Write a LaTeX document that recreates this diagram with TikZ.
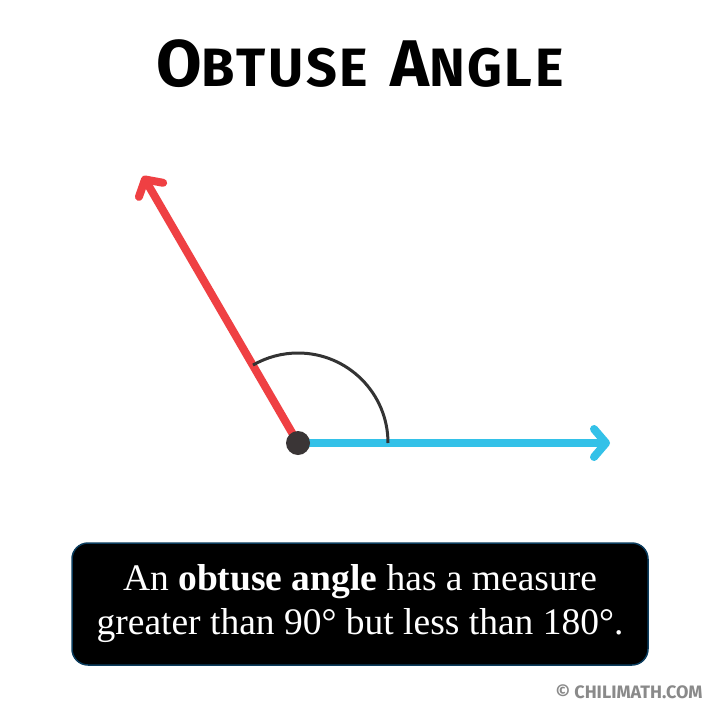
\documentclass[tikz,border=0pt]{standalone}
\usepackage{fontspec}
\setmainfont{Liberation Serif}
\newfontfamily\titlefont{Fira Sans}[LetterSpace=5]
\newfontfamily\markfont{Fira Sans}
\usetikzlibrary{arrows.meta}
\definecolor{rayred}{HTML}{EF4043}
\definecolor{rayblue}{HTML}{33C1E8}
\definecolor{arcgray}{HTML}{333333}
\definecolor{dotgray}{HTML}{3A3536}
\definecolor{boxedge}{HTML}{0B3C5D}
\definecolor{markgray}{HTML}{8A8A8A}
\tikzset{
  ray/.style={line width=8pt, line cap=round, -{Straight Barb[length=12pt,width=28pt,round]}},
  notebox/.style={fill=black, draw=boxedge, line width=1.5pt, rounded corners=16pt,
    minimum width=576pt, minimum height=122pt, inner sep=0pt}
}
\begin{document}
\begin{tikzpicture}[x=1pt,y=-1pt]
  \useasboundingbox [fill=white] (0,0) rectangle (720,720);
  % heading
  \node (title) at (360,64) {\titlefont\bfseries
    {\fontsize{66}{66}\selectfont O}{\fontsize{54}{54}\selectfont BTUSE}\hspace{22pt}%
    {\fontsize{66}{66}\selectfont A}{\fontsize{54}{54}\selectfont NGLE}};
  % the two rays
  \coordinate (O) at (298,443);
  \coordinate (A) at (143,176);
  \coordinate (B) at (610,443);
  \draw [ray, rayred] (O) -- (A);
  \draw [ray, rayblue] (O) -- (B);
  \draw [arcgray, line width=3pt] (O) ++(90,0) arc [start angle=0, end angle=-120, radius=90];
  \fill [dotgray] (O) circle [radius=12];
  % note
  \node [notebox] (note) at (360,604) {};
  \node [white, align=center, font=\fontsize{37.5}{44}\selectfont] (text) at (note.center)
    {An \textbf{obtuse angle} has a measure\\greater than 90° but less than 180°.};
  \node [markgray, anchor=east, font=\markfont\bfseries\fontsize{18}{18}\selectfont] (mark) at (706,692)
    {© CHILIMATH.COM};
\end{tikzpicture}
\end{document}
